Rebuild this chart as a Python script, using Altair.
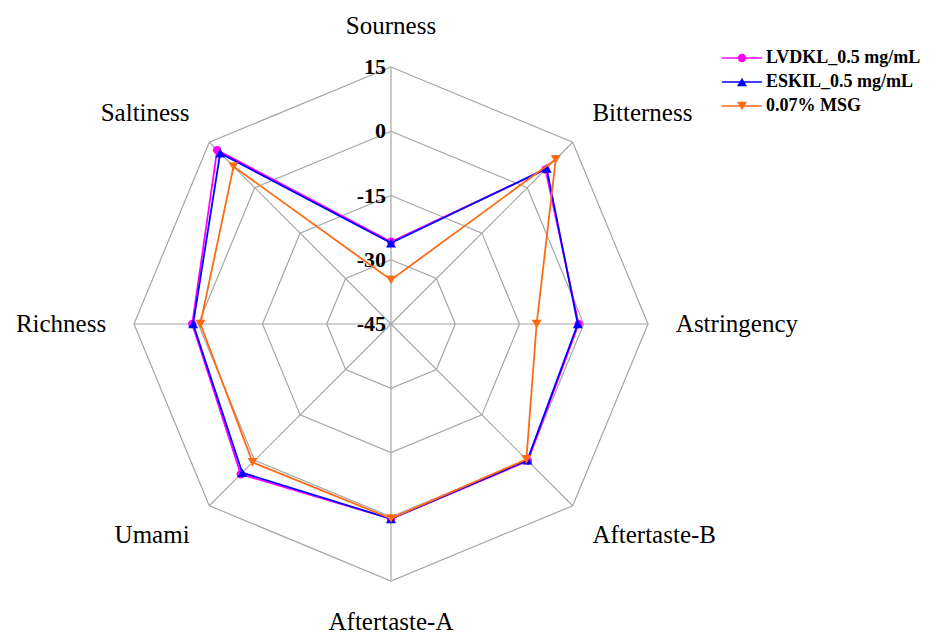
import altair as alt
import pandas as pd

# ---- data ----
categories = ["Sourness", "Bitterness", "Astringency", "Aftertaste-B",
              "Aftertaste-A", "Umami", "Richness", "Saltiness"]
series_names = ["LVDKL_0.5 mg/mL", "ESKIL_0.5 mg/mL", "0.07% MSG"]
lvdkl = [-25.8, 6.0, -1.2, 0.2, 0.5, 4.6, 1.4, 12.4]
eskil = [-26.1, 6.4, -1.4, 0.0, 0.5, 4.1, 1.2, 11.4]
msg = [-34.7, 9.4, -11.0, -0.3, 0.4, 0.7, -0.5, 7.0]
ring_ticks = [15, 0, -15, -30, -45]
colors = ["#FF00FF", "#0000FF", "#FF6A14"]
shapes = ["circle", "triangle-up", "triangle-down"]

R_MIN = -45
R_MAX = 15
FONT = "Liberation Serif"

# ---- layout ----
W, H = 916, 627
CX, CY = 383, 316
PX = 257 / (R_MAX - R_MIN)
xs = alt.Scale(domain=[-CX / PX, (W - CX) / PX], nice=False, zero=False)
ys = alt.Scale(domain=[-(H - CY) / PX, CY / PX], nice=False, zero=False)


def X(f):
    return alt.X(f, type="quantitative", scale=xs, axis=None)


def Y(f):
    return alt.Y(f, type="quantitative", scale=ys, axis=None)


def polar_chart(df):
    c = alt.Chart(df)
    c = c.transform_calculate(r=f"datum.value - ({R_MIN})")
    c = c.transform_calculate(ang="datum.k * PI / 4")
    c = c.transform_calculate(px="datum.r * sin(datum.ang)", py="datum.r * cos(datum.ang)")
    return c


layers = []

# rings (octagons)
ring_rows = []
for v in ring_ticks:
    if v == R_MIN:
        continue
    for k in range(9):
        ring_rows.append({"ring": v, "k": k % 8, "ord": k, "value": v})
ring_df = pd.DataFrame(ring_rows)
layers.append(
    polar_chart(ring_df).mark_line(color="#A6A6A6", strokeWidth=1.2).encode(
        x=X("px"), y=Y("py"), detail="ring:N", order="ord:Q")
)

# spokes
spoke_df = pd.DataFrame({"k": list(range(8)), "value": [R_MAX] * 8})
layers.append(
    polar_chart(spoke_df).transform_calculate(zero="0").mark_rule(
        color="#A6A6A6", strokeWidth=1.2).encode(
        x=X("zero"), y=Y("zero"), x2="px:Q", y2="py:Q")
)

# tick labels along the top spoke
tick_df = pd.DataFrame({"k": [0] * len(ring_ticks), "value": ring_ticks,
                        "label": [str(t) for t in ring_ticks]})
layers.append(
    polar_chart(tick_df).mark_text(align="right", baseline="middle", dx=-5,
                                   font=FONT, fontSize=22, fontWeight="bold",
                                   color="black").encode(
        x=X("px"), y=Y("py"), text="label:N")
)

# category labels
cat_df = pd.DataFrame({"k": list(range(8)), "cat": categories})
base_cat = alt.Chart(cat_df).transform_calculate(
    ang="datum.k * PI / 4").transform_calculate(
    lx="66.5 * sin(datum.ang)", ly="69.6 * cos(datum.ang)")
for al, cond in [("center", "datum.k == 0 || datum.k == 4"),
                 ("left", "datum.k >= 1 && datum.k <= 3"),
                 ("right", "datum.k >= 5")]:
    layers.append(
        base_cat.transform_filter(cond).mark_text(
            align=al, baseline="middle", font=FONT, fontSize=25,
            color="black").encode(x=X("lx"), y=Y("ly"), text="cat:N")
    )

# series
for name, vals, col, shp in zip(series_names, [lvdkl, eskil, msg], colors, shapes):
    rows = [{"series": name, "k": k % 8, "ord": k, "value": vals[k % 8]} for k in range(9)]
    sdf = pd.DataFrame(rows)
    layers.append(
        polar_chart(sdf).mark_line(color=col, strokeWidth=1.8).encode(
            x=X("px"), y=Y("py"), order="ord:Q")
    )
    layers.append(
        polar_chart(sdf).transform_filter("datum.ord < 8").mark_point(
            shape=shp, filled=True, color=col, opacity=1,
            size=70 if shp == "circle" else 100).encode(x=X("px"), y=Y("py"))
    )

# legend
for i, (name, col, shp) in enumerate(zip(series_names, colors, shapes)):
    ldf = pd.DataFrame({"series": [name]})
    yy = 50 + i * 24
    layers.append(alt.Chart(ldf).mark_rule(color=col, strokeWidth=1.6).encode(
        x=alt.value(714), x2=alt.value(754), y=alt.value(yy)))
    layers.append(alt.Chart(ldf).mark_point(
        shape=shp, filled=True, color=col, opacity=1,
        size=70 if shp == "circle" else 100).encode(x=alt.value(734), y=alt.value(yy)))
    layers.append(alt.Chart(ldf).mark_text(
        align="left", baseline="middle", font=FONT, fontSize=18,
        fontWeight="bold", color="black").encode(
        x=alt.value(758), y=alt.value(yy), text="series:N"))

chart = alt.layer(*layers).properties(
    width=W, height=H, padding=0,
    autosize=alt.AutoSizeParams(type="none"),
    background="white",
).configure_view(stroke=None)

chart.save("out.html", embed_options={"renderer": "svg", "actions": False})
